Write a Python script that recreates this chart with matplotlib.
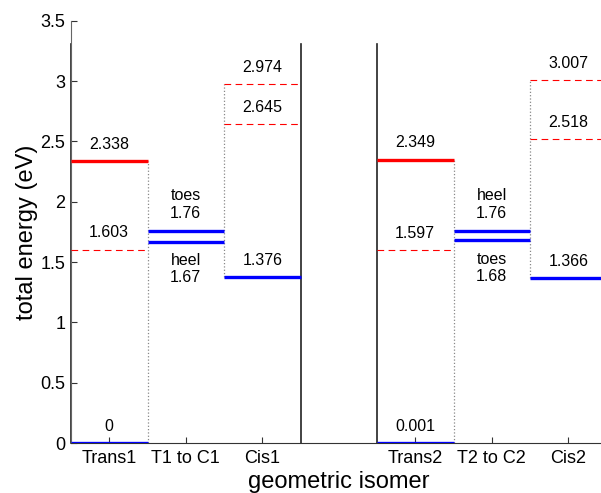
import matplotlib
matplotlib.use('Agg')
import matplotlib.pyplot as plt
from matplotlib.ticker import FuncFormatter

plt.rcParams['font.family'] = ['Liberation Sans', 'DejaVu Sans']

# 数据
categories = ['Trans1', 'T1 to C1', 'Cis1', 'Trans2', 'T2 to C2', 'Cis2']
trans_blue = [0, 0.001]
trans_red = [2.338, 2.349]
trans_red_dash = [1.603, 1.597]
ts_upper = [1.76, 1.76]
ts_upper_name = ['toes', 'heel']
ts_lower = [1.67, 1.68]
ts_lower_name = ['heel', 'toes']
cis_blue = [1.376, 1.366]
cis_dash_low = [2.645, 2.518]
cis_dash_high = [2.974, 3.007]

xpos = [1, 2, 3, 5, 6, 7]
fs_txt = 11.5

fig = plt.figure(figsize=(6.01, 4.93), dpi=100)
ax = fig.add_axes([71 / 601, 50 / 493, 535.5 / 601, 422.3 / 493])


def level(x, y, color, ls='-', lw=2.4):
    ax.plot([x - 0.5, x + 0.5], [y, y], color=color, ls=ls, lw=lw,
            solid_capstyle='butt', zorder=3)


def label(x, y, s, dy):
    ax.annotate(s, (x, y), xytext=(0, dy), textcoords='offset points',
                ha='center', va='center', fontsize=fs_txt)


for i in range(2):
    xt, xs, xc = xpos[3 * i], xpos[3 * i + 1], xpos[3 * i + 2]

    # 分隔线和虚线
    for xb in (xt - 0.5, xc + 0.5):
        ax.plot([xb, xb], [0, 3.31], color='#222222', lw=1.2, zorder=2, clip_on=False)
    ax.plot([xt + 0.5, xt + 0.5], [trans_blue[i], trans_red[i]], color='#888888',
            ls=':', lw=0.9, zorder=1)
    ax.plot([xc - 0.5, xc - 0.5], [cis_blue[i], cis_dash_high[i]], color='#888888',
            ls=':', lw=0.9, zorder=1)

    # trans
    level(xt, trans_blue[i], 'blue')
    level(xt, trans_red[i], 'red')
    level(xt, trans_red_dash[i], 'red', ls=(0, (6, 4)), lw=0.8)
    label(xt, trans_blue[i], '{:g}'.format(trans_blue[i]), 12)
    label(xt, trans_red[i], '{:g}'.format(trans_red[i]), 12)
    label(xt, trans_red_dash[i], '{:g}'.format(trans_red_dash[i]), 12)

    # 过渡态
    level(xs, ts_upper[i], 'blue')
    level(xs, ts_lower[i], 'blue')
    label(xs, ts_upper[i], '{:g}'.format(ts_upper[i]), 12.5)
    label(xs, ts_upper[i], ts_upper_name[i], 25.5)
    label(xs, ts_lower[i], ts_lower_name[i], -13.5)
    label(xs, ts_lower[i], '{:g}'.format(ts_lower[i]), -26)

    # cis
    level(xc, cis_blue[i], 'blue')
    level(xc, cis_dash_low[i], 'red', ls=(0, (6, 4)), lw=0.8)
    level(xc, cis_dash_high[i], 'red', ls=(0, (6, 4)), lw=0.8)
    label(xc, cis_blue[i], '{:g}'.format(cis_blue[i]), 12)
    label(xc, cis_dash_low[i], '{:g}'.format(cis_dash_low[i]), 12)
    label(xc, cis_dash_high[i], '{:g}'.format(cis_dash_high[i]), 12)

ax.set_xlim(0.5, 7.5)
ax.set_ylim(0, 3.5)
ax.set_xticks(xpos)
ax.set_xticklabels(categories)
ax.set_yticks([0, 0.5, 1, 1.5, 2, 2.5, 3, 3.5])
ax.yaxis.set_major_formatter(FuncFormatter(lambda v, p: '{:g}'.format(v)))
ax.tick_params(direction='in', length=4, width=0.8, labelsize=13, color='#333333')
ax.tick_params(axis='x', pad=5)
ax.tick_params(axis='y', pad=4)
ax.spines['top'].set_visible(False)
ax.spines['right'].set_visible(False)
ax.spines['left'].set_color('#666666')
ax.spines['bottom'].set_color('#333333')
ax.set_xlabel('geometric isomer', fontsize=17, labelpad=3)
ax.set_ylabel('total energy (eV)', fontsize=17, labelpad=2)

fig.savefig('out.png', dpi=100)
